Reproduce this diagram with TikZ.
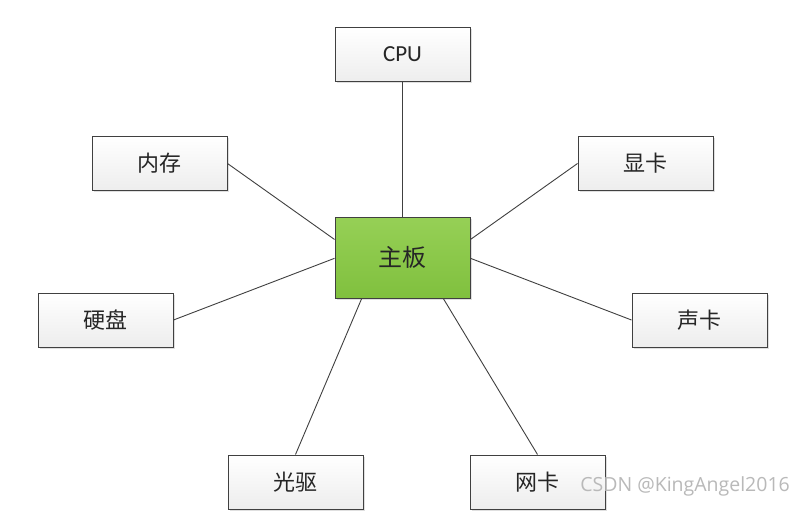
\documentclass[tikz,border=0pt]{standalone}
\usepackage{fontspec}
\setmainfont{Carlito}
\newfontfamily\cjk{Noto Sans CJK SC}
\newfontfamily\wmfont{Open Sans}
\usetikzlibrary{shadows,calc}
\definecolor{edgegray}{HTML}{404040}
\definecolor{txtgray}{HTML}{262626}
\definecolor{greentop}{HTML}{96D056}
\definecolor{greenbot}{HTML}{80C03E}
\tikzset{
  box/.style={draw=edgegray, line width=1pt, minimum width=135pt, minimum height=54pt,
    top color=white, bottom color=gray!14, text=txtgray, inner sep=0pt,
    drop shadow={shadow xshift=1.5pt, shadow yshift=-1.5pt, opacity=0.25, fill=gray}},
  cn/.style={font=\cjk\fontsize{22}{25}\selectfont},
  mainbox/.style={box, minimum height=81pt, top color=greentop, bottom color=greenbot},
  link/.style={draw=edgegray, line width=0.9pt}
}
\begin{document}
\begin{tikzpicture}[x=1pt,y=-1pt]
\useasboundingbox[fill=white] (0,0) rectangle (805,530);
\node[box, font=\fontsize{23}{26}\selectfont] (cpu) at (402.5,54.5) {CPU};
\node[box, cn] (nc) at (159.5,163.5) {内存};
\node[box, cn] (xk) at (645.5,163.5) {显卡};
\node[mainbox, cn, font=\cjk\fontsize{24}{27}\selectfont] (zb) at (402.5,257.5) {主板};
\node[box, cn] (yp) at (105.5,320) {硬盘};
\node[box, cn] (sk) at (699.5,320) {声卡};
\node[box, cn] (gq) at (295.5,482) {光驱};
\node[box, cn] (wk) at (537.5,482) {网卡};
\coordinate (zl1) at ($(zb.north west)!0.28!(zb.south west)$);
\coordinate (zl2) at ($(zb.north west)!0.51!(zb.south west)$);
\coordinate (zr1) at ($(zb.north east)!0.28!(zb.south east)$);
\coordinate (zr2) at ($(zb.north east)!0.51!(zb.south east)$);
\coordinate (zb1) at ($(zb.south west)!0.2!(zb.south east)$);
\coordinate (zb2) at ($(zb.south west)!0.8!(zb.south east)$);
\draw[link] (cpu.south) -- (zb.north);
\draw[link] (nc.east) -- (zl1);
\draw[link] (xk.west) -- (zr1);
\draw[link] (yp.east) -- (zl2);
\draw[link] (sk.west) -- (zr2);
\draw[link] (gq.north) -- (zb1);
\draw[link] (wk.north) -- (zb2);
\node[font=\wmfont\fontsize{19.5}{22}\selectfont, text=gray!55, anchor=east, inner sep=0pt] (wm) at (790,486) {CSDN @KingAngel2016};
\end{tikzpicture}
\end{document}
